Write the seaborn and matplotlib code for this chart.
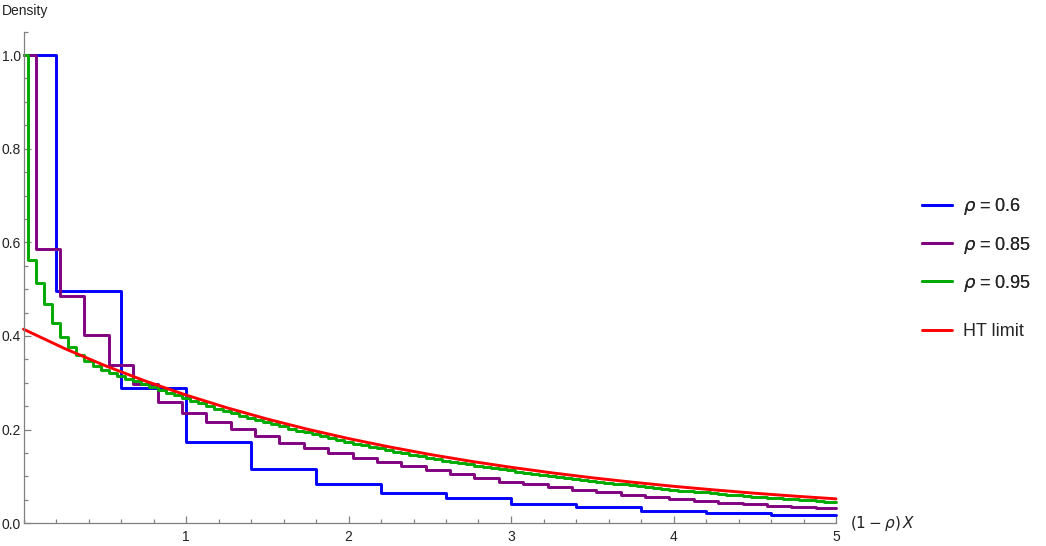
import numpy as np
import pandas as pd
import matplotlib
matplotlib.use("Agg")
import matplotlib.pyplot as plt
import seaborn as sns
from matplotlib.ticker import MultipleLocator

# Step heights, one value per bin of width (1 - rho)
rho_06 = [1.0, 0.495, 0.288, 0.173, 0.115, 0.083, 0.065, 0.053, 0.042,
          0.034, 0.027, 0.021, 0.017]
rho_085 = [1.0, 0.585, 0.486, 0.402, 0.338, 0.297, 0.260, 0.236, 0.217,
           0.201, 0.186, 0.172, 0.161, 0.151, 0.140, 0.131, 0.122, 0.113,
           0.105, 0.096, 0.089, 0.083, 0.077, 0.071, 0.066, 0.061, 0.057,
           0.052, 0.048, 0.044, 0.041, 0.038, 0.035, 0.033]
rho_095 = [1.0, 0.562, 0.514, 0.468, 0.428, 0.398, 0.377, 0.359, 0.347,
           0.335, 0.327, 0.321, 0.314, 0.309, 0.303, 0.297, 0.291, 0.285,
           0.279, 0.273, 0.267, 0.261, 0.256, 0.250, 0.245, 0.240, 0.235,
           0.230, 0.225, 0.220, 0.216, 0.211, 0.207, 0.202, 0.198, 0.194,
           0.190, 0.186, 0.182, 0.178, 0.174, 0.170, 0.167, 0.163, 0.160,
           0.156, 0.153, 0.150, 0.146, 0.143, 0.140, 0.137, 0.134, 0.131,
           0.128, 0.126, 0.123, 0.120, 0.118, 0.115, 0.113, 0.110, 0.108,
           0.105, 0.103, 0.101, 0.099, 0.096, 0.094, 0.092, 0.090, 0.088,
           0.086, 0.084, 0.083, 0.081, 0.079, 0.077, 0.075, 0.074, 0.072,
           0.070, 0.069, 0.067, 0.066, 0.064, 0.063, 0.061, 0.060, 0.059,
           0.057, 0.056, 0.055, 0.053, 0.052, 0.051, 0.050, 0.049, 0.047,
           0.046, 0.045]

# heavy traffic limit, read every 0.25
ht_x = [0, 0.25, 0.5, 0.75, 1.0, 1.25, 1.5, 1.75, 2.0, 2.25, 2.5, 2.75,
        3.0, 3.25, 3.5, 3.75, 4.0, 4.25, 4.5, 4.75, 5.0]
ht_y = [0.4145, 0.3737, 0.3369, 0.3038, 0.2739, 0.2469, 0.2226, 0.2007,
        0.1810, 0.1632, 0.1471, 0.1326, 0.1196, 0.1078, 0.0972, 0.0877,
        0.0790, 0.0713, 0.0642, 0.0579, 0.0522]

X_MAX = 5


def bin_edges(width, n):
    # first bin is half width, last one is cut at the end of the x range
    return [0] + [width / 2 + width * k for k in range(n - 1)] + [X_MAX]


sns.set_style("white")
plt.rcParams["font.family"] = ["Liberation Sans", "DejaVu Sans"]
plt.rcParams["mathtext.fontset"] = "dejavusans"

fig = plt.figure(figsize=(10.46, 5.46), dpi=100)
ax = fig.add_axes([23.5 / 1046, 1 - 523.3 / 546, (836 - 23.5) / 1046, (523.3 - 31.6) / 546])

series = [
    (rho_06, 0.4, "#0000ff", r"$\rho$ = 0.6"),
    (rho_085, 0.15, "#800080", r"$\rho$ = 0.85"),
    (rho_095, 0.05, "#00aa00", r"$\rho$ = 0.95"),
]
for vals, w, col, lab in series:
    df = pd.DataFrame({"x": bin_edges(w, len(vals)), "y": vals + [vals[-1]]})
    sns.lineplot(data=df, x="x", y="y", ax=ax, color=col, lw=2.1,
                 drawstyle="steps-post", sort=False, estimator=None,
                 label=lab, clip_on=False)

ht = pd.DataFrame({"x": ht_x, "y": ht_y})
sns.lineplot(data=ht, x="x", y="y", ax=ax, color="#ff0000", lw=2.1,
             sort=False, estimator=None, label="HT limit", clip_on=False)

ax.set_xlim(0, X_MAX)
ax.set_ylim(0, 1.05)
ax.set_xlabel("")
ax.set_ylabel("")

# Mathematica style axes
for s in ["top", "right"]:
    ax.spines[s].set_visible(False)
for s in ["left", "bottom"]:
    ax.spines[s].set_color("#808080")
    ax.spines[s].set_linewidth(0.9)
ax.xaxis.set_major_locator(MultipleLocator(1))
ax.xaxis.set_minor_locator(MultipleLocator(0.2))
ax.yaxis.set_major_locator(MultipleLocator(0.2))
ax.yaxis.set_minor_locator(MultipleLocator(0.05))
ax.set_xticks([1, 2, 3, 4, 5])
ax.set_xticklabels(["1", "2", "3", "4", "5"])
ax.set_yticks([0, 0.2, 0.4, 0.6, 0.8, 1.0])
ax.set_yticklabels(["0.0", "0.2", "0.4", "0.6", "0.8", "1.0"])
ax.tick_params(which="both", bottom=True, left=True, direction="in",
               color="#808080", width=0.9, labelsize=10,
               labelcolor="#222222")
ax.tick_params(which="major", length=5)
ax.tick_params(which="minor", length=3)
ax.tick_params(axis="x", pad=5)
ax.tick_params(axis="y", pad=2)

ax.annotate(r"$(1-\rho)\,X$", xy=(1, 0), xycoords="axes fraction",
            xytext=(10, 0), textcoords="offset points", ha="left",
            va="center", fontsize=11, color="#222222")
fig.text(2 / 1046, 1 - 11 / 546, "Density", ha="left", va="center",
         fontsize=10, color="#222222")

handles, labels = ax.get_legend_handles_labels()
ax.get_legend().remove()
leg1 = fig.legend(handles[:3], labels[:3], loc="center left",
                  bbox_to_anchor=(922 / 1046, 1 - 245 / 546),
                  frameon=False, fontsize=13, borderpad=0,
                  borderaxespad=0, handlelength=1.65, handletextpad=0.6,
                  labelspacing=0.95)
fig.add_artist(leg1)
fig.legend(handles[3:], labels[3:], loc="center left",
           bbox_to_anchor=(922 / 1046, 1 - 331.7 / 546),
           frameon=False, fontsize=13, borderpad=0, borderaxespad=0,
           handlelength=1.65, handletextpad=0.6)

fig.savefig("out.png", dpi=100)
